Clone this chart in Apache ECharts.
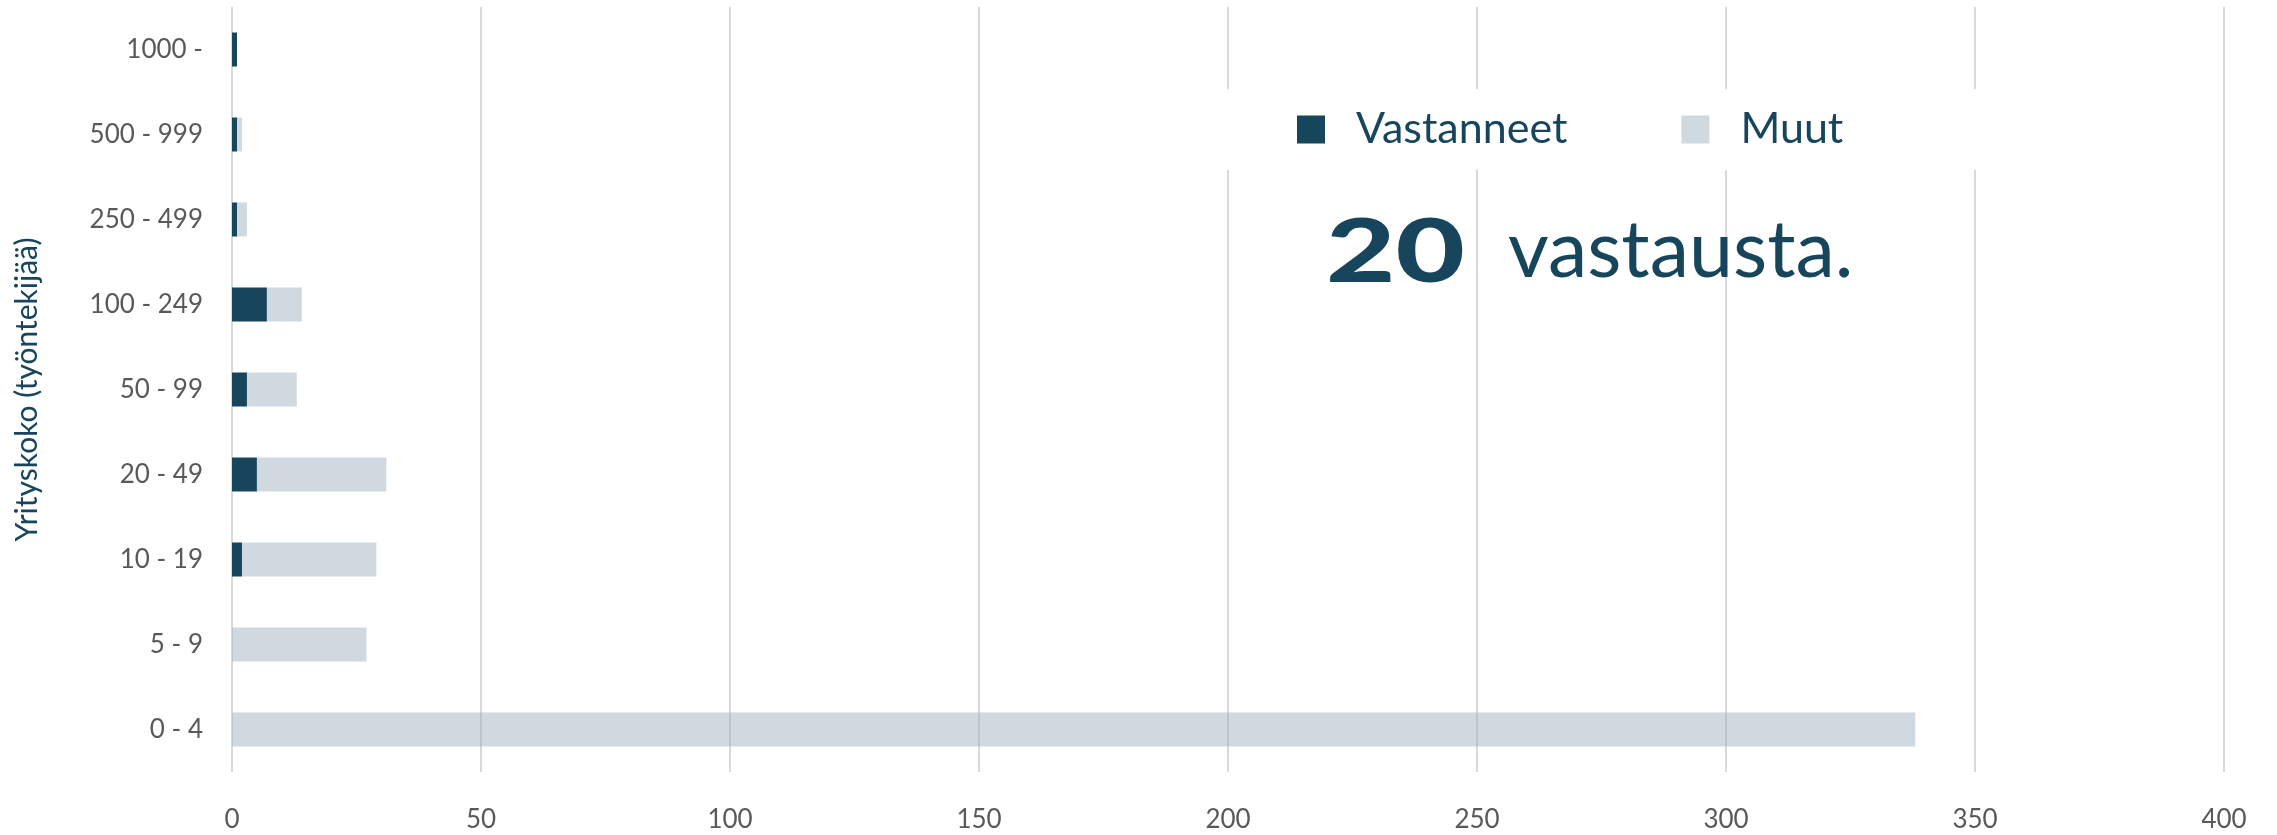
<!DOCTYPE html>
<html>
<head>
<meta charset="utf-8">
<script src="https://cdn.jsdelivr.net/npm/echarts@6/dist/echarts.min.js"></script>
<style>html,body{margin:0;padding:0;background:#fff;}#c{width:2277px;height:835px;}</style>
</head>
<body>
<div id="c"></div>
<script>
const categories = ['0 - 4','5 - 9','10 - 19','20 - 49','50 - 99','100 - 249','250 - 499','500 - 999','1000 -'];
const vastanneet = [0, 0, 2, 5, 3, 7, 1, 1, 1];
const muut = [338, 27, 27, 26, 10, 7, 2, 1, 0];
const xTicks = { min: 0, max: 400, interval: 50 };
const totalText = '20';
const restText = 'vastausta.';

const dark = '#16455c';
const light = 'rgba(155,174,187,0.47)';
const font = 'Lato, "Open Sans", sans-serif';

const chart = echarts.init(document.getElementById('c'));
chart.setOption({
  animation: false,
  grid: { left: 232, right: 53, top: 7, bottom: 63 },
  legend: {
    data: ['Vastanneet', 'Muut'],
    left: 1137, top: 89,
    padding: [19, 160],
    backgroundColor: '#ffffff',
    itemWidth: 28, itemHeight: 28, itemGap: 114,
    icon: 'rect',
    textStyle: { fontFamily: font, fontSize: 43, color: dark, padding: [0, 0, 0, 26] }
  },
  xAxis: {
    type: 'value', min: xTicks.min, max: xTicks.max, interval: xTicks.interval,
    axisLine: { show: false }, axisTick: { show: false },
    splitLine: { show: true, lineStyle: { color: '#d9d9d9', width: 2 } },
    axisLabel: { fontFamily: font, fontSize: 26, color: '#595959', margin: 35 }
  },
  yAxis: {
    type: 'category', data: categories,
    axisLine: { show: false }, axisTick: { show: false },
    axisLabel: { fontFamily: font, fontSize: 26, color: '#595959', margin: 29 },
    name: 'Yrityskoko (työntekijää)', nameLocation: 'middle', nameGap: 190,
    nameTextStyle: { fontFamily: font, fontSize: 30, color: dark }
  },
  series: [
    { name: 'Vastanneet', type: 'bar', stack: 's', data: vastanneet, barWidth: 34, itemStyle: { color: dark } },
    { name: 'Muut', type: 'bar', stack: 's', data: muut, barWidth: 34, itemStyle: { color: light } }
  ],
  graphic: [
    { type: 'text', left: 1326, top: 210, z: 10, scaleX: 1.36,
      style: { text: totalText, fontFamily: font, fontWeight: 900, fontSize: 88, fill: dark } },
    { type: 'text', left: 1508, top: 212, z: 10,
      style: { text: restText, fontFamily: font, fontWeight: 400, fontSize: 79, fill: dark } }
  ]
});
</script>
</body>
</html>
